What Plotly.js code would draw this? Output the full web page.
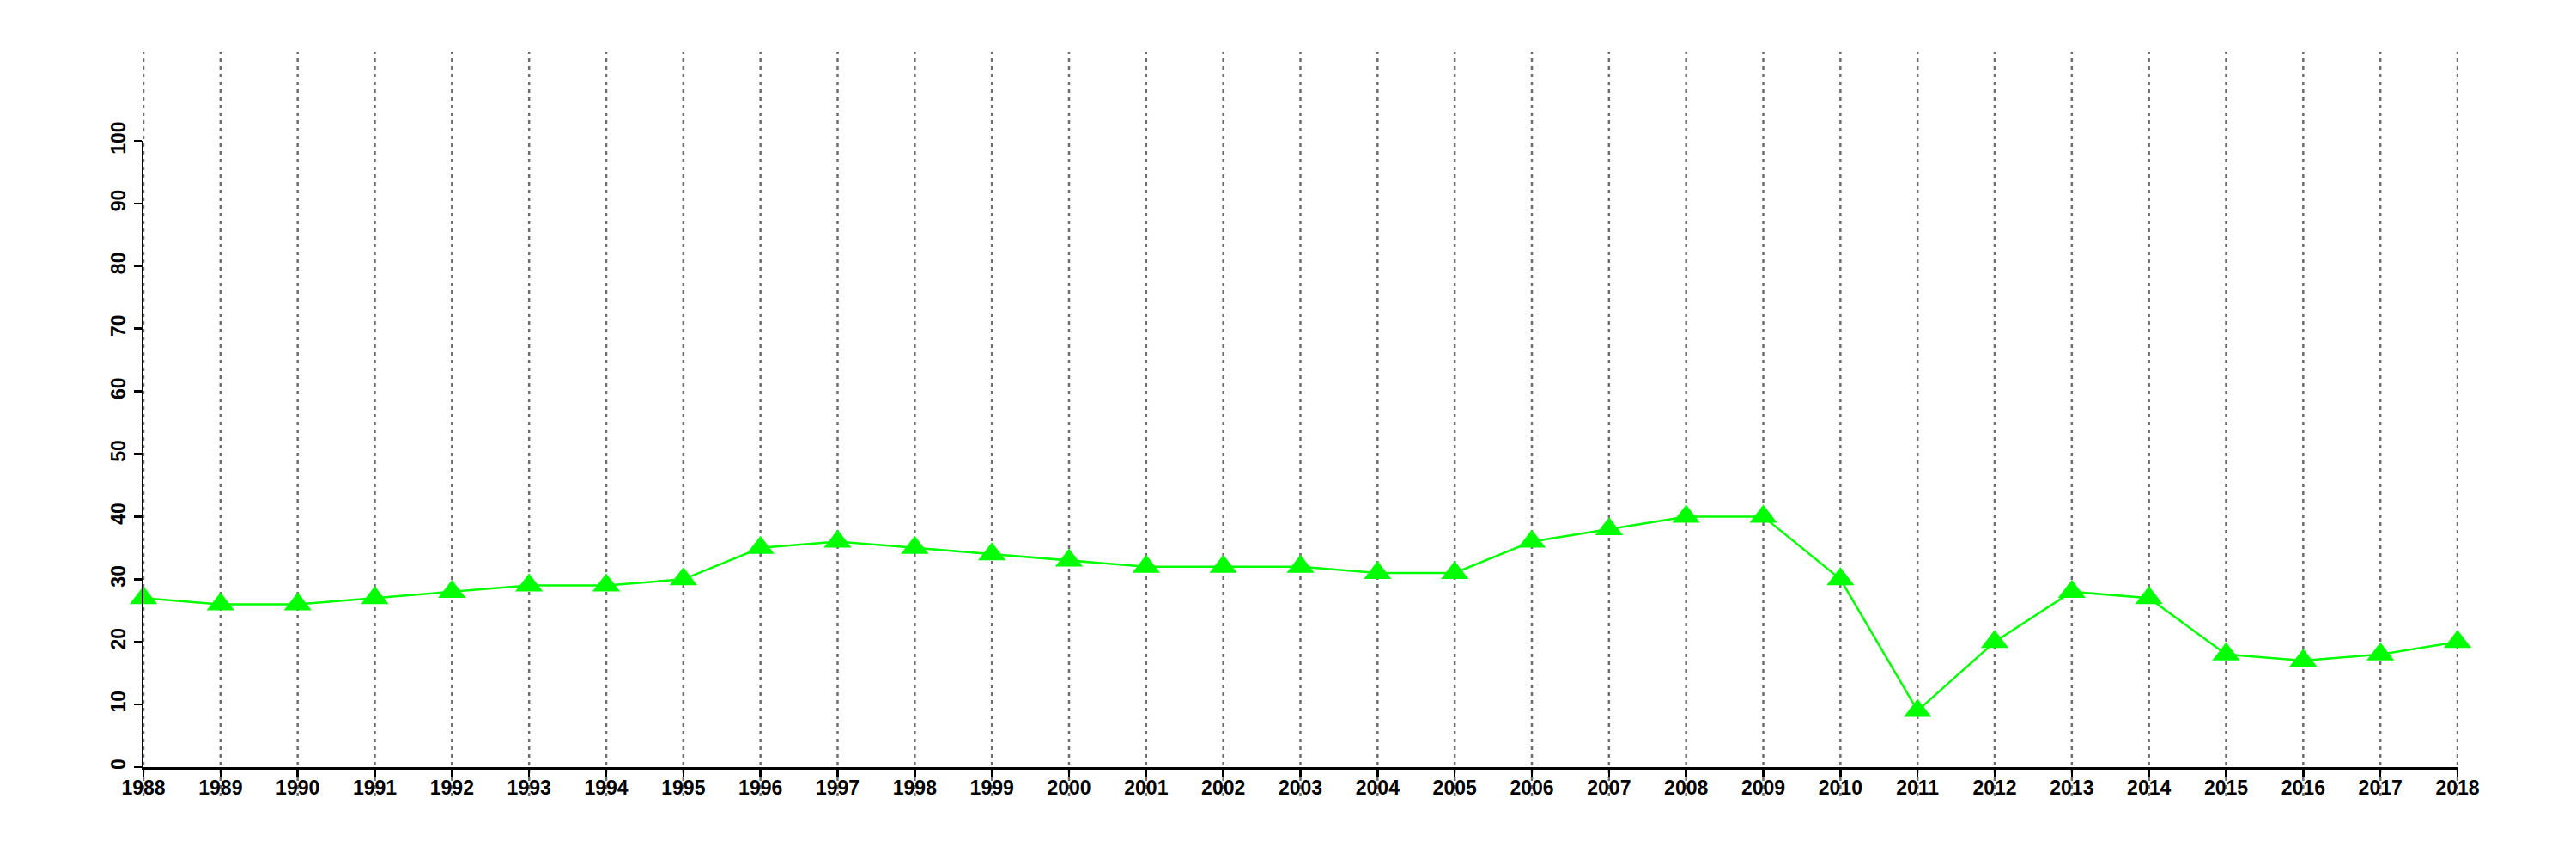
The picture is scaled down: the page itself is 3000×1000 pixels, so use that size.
<!DOCTYPE html>
<html>
<head>
<meta charset="utf-8">
<script src="https://cdn.plot.ly/plotly-3.0.1.min.js"></script>
<style>html,body{margin:0;padding:0;background:#fff;}#chart{width:3000px;height:1000px;}</style>
</head>
<body>
<div id="chart"></div>
<script>
var years = [1988,1989,1990,1991,1992,1993,1994,1995,1996,1997,1998,1999,2000,2001,2002,2003,2004,2005,2006,2007,2008,2009,2010,2011,2012,2013,2014,2015,2016,2017,2018];
var values = [27,26,26,27,28,29,29,30,35,36,35,34,33,32,32,32,31,31,36,38,40,40,30,9,20,28,27,18,17,18,20];
var yTicks = [0,10,20,30,40,50,60,70,80,90,100];

var trace = {
  x: years,
  y: values,
  type: 'scatter',
  mode: 'lines+markers',
  line: {color: '#00ff00', width: 2.5},
  marker: {symbol: 'triangle-up', size: 28, color: '#00ff00'},
  cliponaxis: false,
  showlegend: false,
  hoverinfo: 'x+y'
};

var gridShapes = years.map(function(yr){
  return {
    type: 'line', xref: 'x', yref: 'paper',
    x0: yr, x1: yr, y0: -0.0466, y1: 1.1427,
    line: {color: '#6e6e6e', width: 2.5, dash: '4px,5px'},
    layer: 'below'
  };
});

var tickFont = {family: 'Liberation Sans, Arial, sans-serif', size: 23, color: '#000', weight: 'bold'};

var layout = {
  width: 3000, height: 1000,
  margin: {l: 167, r: 138, t: 164, b: 107, pad: 0},
  paper_bgcolor: '#ffffff',
  plot_bgcolor: 'rgba(0,0,0,0)',
  showlegend: false,
  shapes: gridShapes,
  xaxis: {
    range: [1988, 2018],
    tickvals: years,
    ticktext: years.map(String),
    showgrid: false, zeroline: false,
    showline: true, linecolor: '#000', linewidth: 2.5,
    ticks: 'outside', ticklen: 8, tickwidth: 2.5, tickcolor: '#000',
    tickfont: tickFont,
    ticklabelstandoff: -6,
    tickangle: 0
  },
  yaxis: {
    range: [0, 100],
    tickvals: yTicks,
    ticktext: yTicks.map(String),
    showgrid: false, zeroline: false,
    showline: true, linecolor: '#000', linewidth: 2.5,
    ticks: 'outside', ticklen: 9, tickwidth: 2.5, tickcolor: '#000',
    tickfont: tickFont,
    tickangle: -90
  }
};

Plotly.newPlot('chart', [trace], layout, {displayModeBar: false, staticPlot: true});
</script>
</body>
</html>
